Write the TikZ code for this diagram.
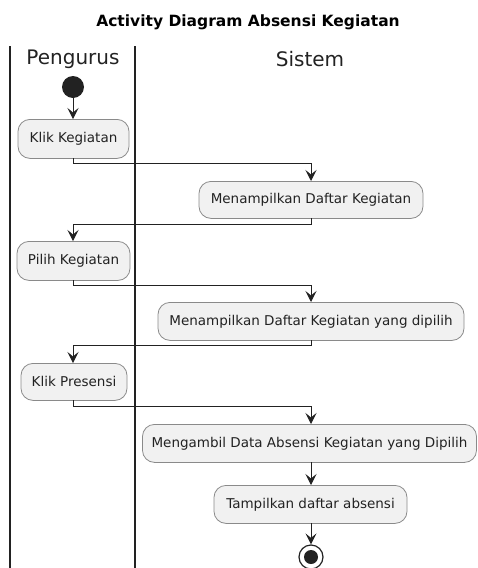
\documentclass[tikz,border=0pt]{standalone}
\usepackage{fontspec}
\setmainfont{DejaVu Sans}
\usetikzlibrary{arrows.meta}
\definecolor{actfill}{HTML}{F1F1F1}
\definecolor{actline}{HTML}{8A8A8A}
\definecolor{ink}{HTML}{222222}
\tikzset{
  act/.style={draw=actline, fill=actfill, rounded corners=12pt, line width=0.8pt,
    inner sep=0pt, font=\fontsize{13.5}{16}\selectfont, text=ink, anchor=north},
  flow/.style={draw=ink, line width=1pt,
    -{Stealth[length=11pt,width=11pt,inset=4.5pt]}},
  lane/.style={draw=ink, line width=1.6pt},
  lanehead/.style={font=\fontsize{20}{22}\selectfont, text=ink}
}
\begin{document}
\begin{tikzpicture}[x=1pt,y=-1pt]
  \useasboundingbox (0,0) rectangle (477,568);
  % title
  \node[font=\bfseries\fontsize{15.5}{18}\selectfont] (title) at (248,22) {Activity Diagram Absensi Kegiatan};
  % swimlanes
  \draw[lane] (10,46) -- (10,568);
  \draw[lane] (135,46) -- (135,568);
  \node[lanehead] (lp) at (73,59) {Pengurus};
  \node[lanehead] (ls) at (310,59) {Sistem};
  % start
  \node[circle, fill=ink, minimum size=22pt, inner sep=0pt] (start) at (73,87) {};
  % activities
  \node[act, minimum width=111pt, minimum height=39pt] (a1) at (73.5,119) {Klik Kegiatan};
  \node[act, minimum width=224pt, minimum height=37pt] (a2) at (311,181) {Menampilkan Daftar Kegiatan};
  \node[act, minimum width=113pt, minimum height=39pt] (a3) at (73.5,241) {Pilih Kegiatan};
  \node[act, minimum width=306pt, minimum height=38pt] (a4) at (311,302) {Menampilkan Daftar Kegiatan yang dipilih};
  \node[act, minimum width=106pt, minimum height=37pt] (a5) at (74,363) {Klik Presensi};
  \node[act, minimum width=334pt, minimum height=38pt] (a6) at (309.5,424) {Mengambil Data Absensi Kegiatan yang Dipilih};
  \node[act, minimum width=193pt, minimum height=38pt] (a7) at (310.5,485) {Tampilkan daftar absensi};
  % end
  \node[circle, draw=ink, line width=1.2pt, fill=white, minimum size=24pt, inner sep=0pt] (stop) at (311,557) {};
  \node[circle, fill=ink, minimum size=14pt, inner sep=0pt] (stopdot) at (stop.center) {};
  % connectors
  \draw[flow] (start.south) -- (start.south |- a1.north);
  \draw[flow] (73,158) |- (311,163.5) -- (a2.north);
  \draw[flow] (311,218) |- (73,224.5) -- (73,241);
  \draw[flow] (73,280) |- (311,285) -- (a4.north);
  \draw[flow] (311,340) |- (73,345) -- (73,363);
  \draw[flow] (73,400) |- (311,406) -- (311,424);
  \draw[flow] (311,462) -- (311,485);
  \draw[flow] (311,523) -- (stop.north);
\end{tikzpicture}
\end{document}
